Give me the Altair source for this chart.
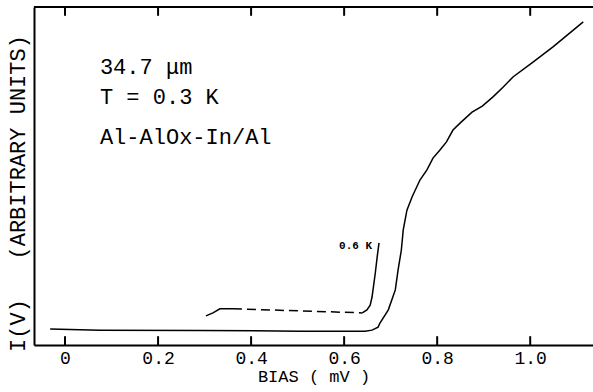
import altair as alt
import pandas as pd

# ---- data ----
bias_03 = [-0.032, 0.075, 0.290, 0.505, 0.645, 0.660, 0.673, 0.677, 0.695, 0.710,
           0.716, 0.723, 0.727, 0.735, 0.746, 0.763, 0.778, 0.791, 0.806, 0.820,
           0.834, 0.852, 0.875, 0.897, 0.920, 0.941, 0.963, 1.006, 1.049, 1.114]
iv_03 = [0.047, 0.044, 0.043, 0.041, 0.041, 0.044, 0.053, 0.065, 0.104, 0.163,
         0.222, 0.281, 0.340, 0.399, 0.438, 0.488, 0.518, 0.553, 0.577, 0.601,
         0.636, 0.660, 0.689, 0.707, 0.734, 0.762, 0.793, 0.837, 0.882, 0.956]

bias_06_start = [0.303, 0.318, 0.333, 0.361]
iv_06_start = [0.086, 0.095, 0.107, 0.107]
bias_06_dash = [0.361, 0.505, 0.639]
iv_06_dash = [0.107, 0.101, 0.095]
bias_06_rise = [0.639, 0.649, 0.656, 0.660, 0.667, 0.671, 0.675]
iv_06_rise = [0.095, 0.104, 0.118, 0.142, 0.213, 0.260, 0.302]

tick_values = [0.0, 0.2, 0.4, 0.6, 0.8, 1.0]
tick_len = 0.026
x_domain = [-0.0667, 1.135]
y_domain = [0.0, 1.0]

note_text = ["34.7 μm", "T = 0.3 K", "Al-AlOx-In/Al"]
note_x = [0.075, 0.075, 0.075]
note_y = [0.822, 0.734, 0.615]

curve_label = ["0.6 K"]
curve_label_x = [0.660]
curve_label_y = [0.293]

FONT = "Liberation Mono"
NB = "\u00a0"

x_scale = alt.Scale(domain=x_domain, nice=False)
y_scale = alt.Scale(domain=y_domain, nice=False)

df03 = pd.DataFrame({"bias": bias_03, "i": iv_03})
df06a = pd.DataFrame({"bias": bias_06_start, "i": iv_06_start})
df06b = pd.DataFrame({"bias": bias_06_dash, "i": iv_06_dash})
df06c = pd.DataFrame({"bias": bias_06_rise, "i": iv_06_rise})
df_top = pd.DataFrame({"bias": x_domain, "i": [y_domain[1], y_domain[1]]})
df_ticks = pd.DataFrame({
    "bias": tick_values + tick_values,
    "lo": [y_domain[0]] * 6 + [y_domain[1] - tick_len] * 6,
    "hi": [y_domain[0] + tick_len] * 6 + [y_domain[1]] * 6,
})
df_notes = pd.DataFrame({"bias": note_x, "i": note_y, "t": note_text})
df_lab = pd.DataFrame({"bias": curve_label_x, "i": curve_label_y, "t": curve_label})

x_axis = alt.Axis(
    values=tick_values,
    labelExpr="datum.value == 0 ? '0' : format(datum.value, '.1f')",
    ticks=False, grid=False, title=f"BIAS{NB}({NB}mV{NB})",
    domainWidth=2, domainColor="black",
    labelFont=FONT, labelFontSize=18, labelPadding=4, labelColor="black",
    titleFont=FONT, titleFontSize=17, titleFontWeight="normal", titlePadding=1,
    titleColor="black",
)
y_axis = alt.Axis(
    labels=False, ticks=False, grid=False,
    title=f"I(V){NB}{NB}{NB}(ARBITRARY{NB}UNITS)",
    domainWidth=2, domainColor="black",
    titleFont=FONT, titleFontSize=22, titleFontWeight="normal", titlePadding=5,
    titleColor="black", titleY=186,
)

X = alt.X("bias:Q", scale=x_scale, axis=x_axis)
Y = alt.Y("i:Q", scale=y_scale, axis=y_axis)

main = alt.Chart(df03).mark_line(color="black", strokeWidth=1.5).encode(x=X, y=Y)
l06a = alt.Chart(df06a).mark_line(color="black", strokeWidth=1.5).encode(x=X, y=Y)
l06b = alt.Chart(df06b).mark_line(color="black", strokeWidth=1.5, strokeDash=[9, 5]).encode(x=X, y=Y)
l06c = alt.Chart(df06c).mark_line(color="black", strokeWidth=1.5).encode(x=X, y=Y)
top = alt.Chart(df_top).mark_line(color="black", strokeWidth=2).encode(x=X, y=Y)
ticks = alt.Chart(df_ticks).mark_rule(color="#000000", strokeWidth=2, opacity=1).encode(
    x=X,
    y=alt.Y("lo:Q", scale=y_scale, axis=y_axis),
    y2=alt.Y2("hi"),
)

notes = alt.Chart(df_notes).mark_text(
    font=FONT, fontSize=22, align="left", baseline="middle", color="black"
).encode(x=X, y=Y, text="t:N")
lab = alt.Chart(df_lab).mark_text(
    font=FONT, fontSize=11, fontWeight="bold", align="right", baseline="middle", color="black"
).encode(x=X, y=Y, text="t:N")

chart = alt.layer(main, l06a, l06b, l06c, top, notes, lab, ticks).properties(
    width=559, height=338,
    autosize=alt.AutoSizeParams(type="none"),
    padding={"left": 34, "top": 7, "right": 0, "bottom": 47},
    background="white",
).configure_view(strokeWidth=0)

chart.save("out.html", embed_options={"renderer": "svg", "actions": False})
